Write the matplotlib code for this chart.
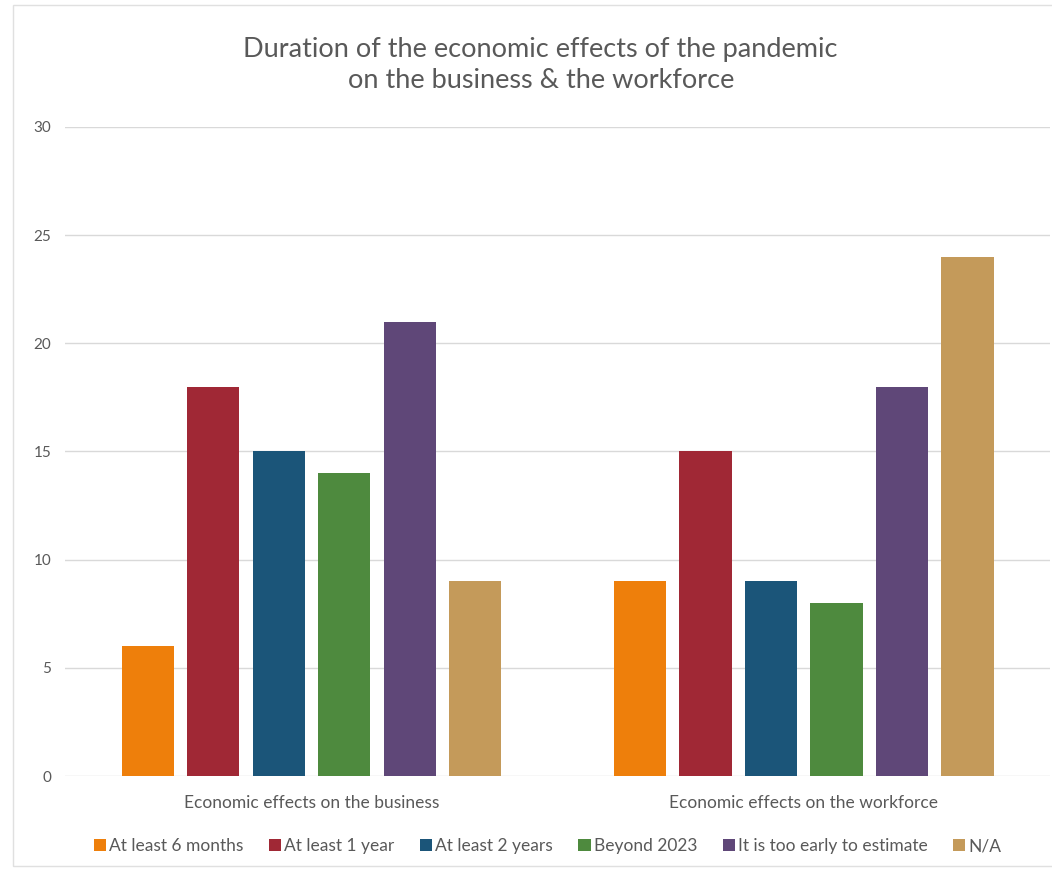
import matplotlib.pyplot as plt
import matplotlib.patches as p
import numpy as np

plt.rcParams['font.family'] = ['Lato', 'DejaVu Sans']

groups = ["Economic effects on the business", "Economic effects on the workforce"]
series = ["At least 6 months", "At least 1 year", "At least 2 years",
          "Beyond 2023", "It is too early to estimate", "N/A"]
values = [
    [6, 9],
    [18, 15],
    [15, 9],
    [14, 8],
    [21, 18],
    [9, 24],
]
colors = ["#EE7F0B", "#A02835", "#1B5579", "#4E8A3E", "#5F4778", "#C49A5A"]

fig = plt.figure(figsize=(10.52, 8.69), dpi=100)
ax = fig.add_axes([0.062, 0.107, 0.936, 0.747])

x = np.arange(len(groups))
step = 0.133
width = 0.106
for i, (name, vals) in enumerate(zip(series, values)):
    ax.bar(x + (i - 2.5) * step, vals, width, color=colors[i], label=name, zorder=3)

ax.set_xlim(-0.5, 1.5)
ax.set_ylim(0, 30)
ax.set_yticks(range(0, 31, 5))
ax.set_xticks(x)
ax.set_xticklabels(groups, fontsize=12.5)
ax.yaxis.grid(True, color="#D9D9D9", lw=1, zorder=0)
for s in ax.spines.values():
    s.set_visible(False)
ax.tick_params(length=0, labelsize=11, colors="#595959", pad=10)
ax.tick_params(axis='x', labelsize=12.5, pad=14)

ax.legend(loc='upper center', bbox_to_anchor=(0.49, -0.072), ncol=6, frameon=False,
          fontsize=12.5, labelcolor="#595959", handlelength=0.7, handleheight=0.7,
          handletextpad=0.2, columnspacing=1.45)

fig.text(0.514, 0.925, "Duration of the economic effects of the pandemic\non the business & the workforce",
         ha='center', va='center', fontsize=19.5, color="#595959", linespacing=1.3)

fig.patches.append(p.Rectangle((0.012, 0.004), 0.99, 0.99, transform=fig.transFigure,
                               fill=False, edgecolor="#E0E0E0", lw=1))

fig.savefig("out.png", dpi=100)
